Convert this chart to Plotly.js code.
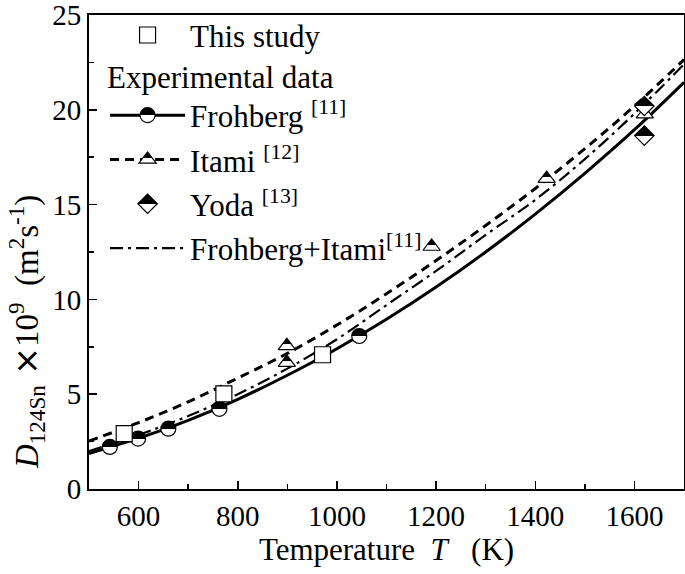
<!DOCTYPE html>
<html><head><meta charset="utf-8">
<script src="https://cdn.plot.ly/plotly-3.0.1.min.js"></script>
<style>html,body{margin:0;padding:0;background:#fff}</style>
</head><body><div id="chart" style="width:685px;height:574px"></div>
<script>
// ---- data ----
const studyT = [571, 772, 971];
const studyD = [2.92, 5.02, 7.08];
const frohbergT = [542, 599, 660, 763, 1045];
const frohbergD = [2.22, 2.66, 3.18, 4.23, 8.07];
const itamiT = [899, 899, 1191, 1423, 1621];
const itamiD = [7.55, 6.67, 12.79, 16.37, 19.77];
const yodaT = [1620, 1620];
const yodaD = [20.2, 18.64];
const curveT = [500, 600, 700, 800, 900, 1000, 1100, 1200, 1300, 1400, 1500, 1600, 1700];
const frohbergFit = [1.87, 2.68, 3.62, 4.73, 6.0, 7.4, 8.95, 10.65, 12.5, 14.5, 16.65, 18.95, 21.45];
const itamiFit = [2.53, 3.5, 4.6, 5.85, 7.15, 8.65, 10.3, 12.05, 13.9, 15.85, 17.95, 20.2, 22.65];
const combinedFit = [2.0, 2.85, 3.85, 5.0, 6.35, 7.9, 9.7, 11.5, 13.4, 15.25, 17.4, 19.8, 22.4];
const names = ['This study', 'Frohberg <sup>[11]</sup>', 'Itami <sup>[12]</sup>', 'Yoda <sup>[13]</sup>', 'Frohberg+Itami<sup>[11]</sup>'];
const xTickVals = [600, 800, 1000, 1200, 1400, 1600];
const yTickVals = [0, 5, 10, 15, 20, 25];
const xTitle = 'Temperature\u00a0\u00a0<i>T</i>\u00a0\u00a0\u00a0(K)';
const yTitle = '<i>D</i><sub>124Sn</sub><span style="font-family:DejaVu Sans">\u00a0\u00d7</span>10<sup>9</sup>\u00a0\u00a0(m<sup>2</sup>s<sup>-1</sup>)';

const FONT = "'Liberation Serif', 'Times New Roman', serif";
const halfMarker = (symbol, size) => ({
  symbol: symbol, size: size, color: 'white',
  gradient: {type: 'vertical', color: 'black'},
  line: {color: 'black', width: 1.2}
});

const traces = [
  {x: curveT, y: frohbergFit, mode: 'lines', line: {color: 'black', width: 3, shape: 'spline'}, showlegend: false, hoverinfo: 'skip'},
  {x: curveT, y: itamiFit, mode: 'lines', line: {color: 'black', width: 3, dash: '9px,6px', shape: 'spline'}, showlegend: false, hoverinfo: 'skip'},
  {x: curveT, y: combinedFit, mode: 'lines', line: {color: 'black', width: 2.2, dash: '13px,5px,3px,5px', shape: 'spline'}, showlegend: false, hoverinfo: 'skip'},
  {x: frohbergT, y: frohbergD, mode: 'markers', marker: halfMarker('circle', 15), showlegend: false},
  {x: itamiT, y: itamiD, mode: 'markers', marker: halfMarker('triangle-up', 15), showlegend: false},
  {x: yodaT, y: yodaD, mode: 'markers', marker: halfMarker('diamond', 15), showlegend: false},
  {x: studyT, y: studyD, mode: 'markers', name: names[0], legend: 'legend',
   marker: {symbol: 'square', size: 16, color: 'white', line: {color: 'black', width: 1.2}}},
  {x: [null], y: [null], mode: 'lines+markers', name: names[1], legend: 'legend2', legendgroup: 'a',
   line: {color: 'black', width: 3}, marker: halfMarker('circle', 15)},
  {x: [null], y: [null], mode: 'lines+markers', name: names[2], legend: 'legend2', legendgroup: 'b',
   line: {color: 'black', width: 3, dash: '9px,6px'}, marker: halfMarker('triangle-up', 15)},
  {x: [null], y: [null], mode: 'markers', name: names[3], legend: 'legend2', legendgroup: 'c',
   marker: halfMarker('diamond', 15)},
  {x: [null], y: [null], mode: 'lines', name: names[4], legend: 'legend2', legendgroup: 'd',
   line: {color: 'black', width: 2.2, dash: '13px,5px,3px,5px'}}
];

const axisCommon = {
  showline: true, linecolor: 'black', linewidth: 2, mirror: true,
  ticks: 'inside', ticklen: 8, tickwidth: 1.5, tickcolor: 'black',
  showgrid: false, zeroline: false, ticklabeloverflow: 'allow',
  tickfont: {family: FONT, size: 29, color: 'black'}
};

const layout = {
  width: 685, height: 574,
  margin: {l: 89, r: 1, t: 15, b: 85},
  paper_bgcolor: 'white', plot_bgcolor: 'white',
  font: {family: FONT, color: 'black'},
  xaxis: Object.assign({}, axisCommon, {
    range: [500, 1700], tickvals: xTickVals,
    minor: {ticks: 'inside', dtick: 100, tick0: 0, ticklen: 5, tickwidth: 1.5, tickcolor: 'black'},
    title: {text: xTitle, font: {family: FONT, size: 31, color: 'black'}, standoff: 6}
  }),
  yaxis: Object.assign({}, axisCommon, {
    range: [0, 25], tickvals: yTickVals,
    minor: {ticks: 'inside', dtick: 2.5, tick0: 0, ticklen: 5, tickwidth: 1.5, tickcolor: 'black'}
  }),
  annotations: [{
    text: yTitle, textangle: -90, showarrow: false,
    xref: 'paper', yref: 'paper', x: -0.105, y: 0.33, xanchor: 'center', yanchor: 'middle',
    font: {family: FONT, size: 33, color: 'black'}
  }],
  legend: {x: 0.027, y: 1.014, xanchor: 'left', yanchor: 'top', bgcolor: 'rgba(0,0,0,0)',
    font: {family: FONT, size: 31, color: 'black'}, itemwidth: 75},
  legend2: {x: 0.027, y: 0.93, xanchor: 'left', yanchor: 'top', bgcolor: 'rgba(0,0,0,0)',
    font: {family: FONT, size: 31, color: 'black'}, itemwidth: 75,
    traceorder: 'grouped', tracegroupgap: 1,
    title: {text: 'Experimental data', font: {family: FONT, size: 31, color: 'black'}}}
};

function sharpenGradients() {
  document.querySelectorAll('linearGradient').forEach(g => {
    g.setAttribute('x1', '0'); g.setAttribute('y1', '0');
    g.setAttribute('x2', '0'); g.setAttribute('y2', '1');
    while (g.firstChild) g.removeChild(g.firstChild);
    [[0, 'black'], [0.5, 'black'], [0.5, 'white'], [1, 'white']].forEach(s => {
      const st = document.createElementNS('http://www.w3.org/2000/svg', 'stop');
      st.setAttribute('offset', s[0]);
      st.setAttribute('stop-color', s[1]);
      g.appendChild(st);
    });
  });
}

Plotly.newPlot('chart', traces, layout, {displayModeBar: false, staticPlot: true}).then(sharpenGradients);
</script></body></html>
